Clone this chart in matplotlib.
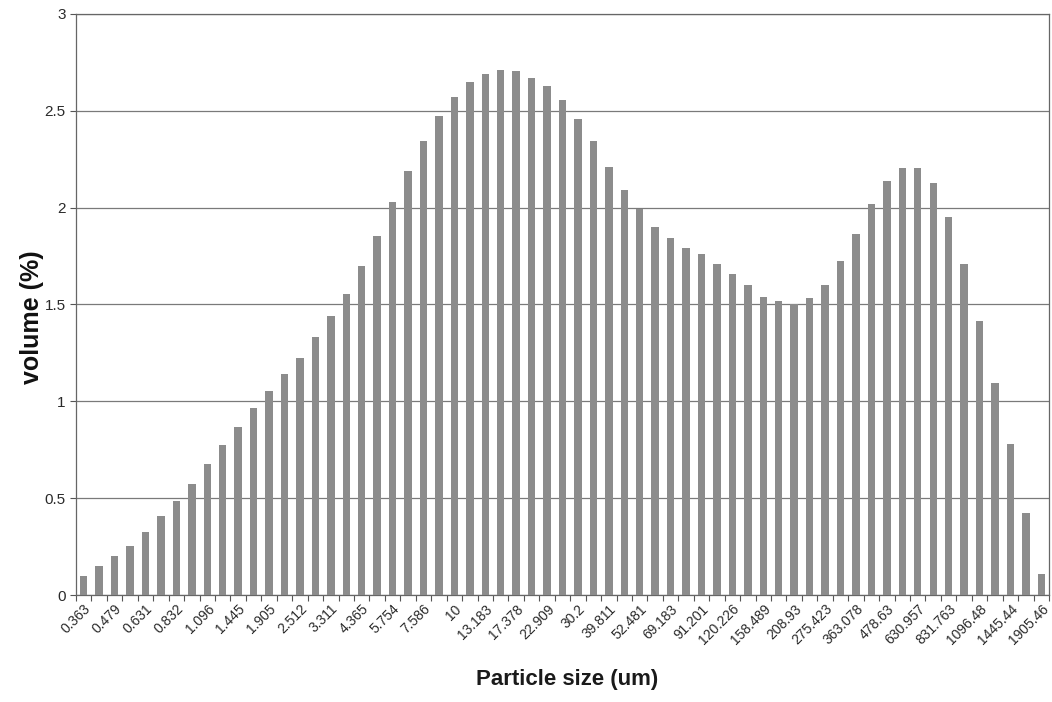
import matplotlib.pyplot as plt
from matplotlib import ticker as mtick

# particle size bins (um) and volume fraction per bin (%)
sizes = [
    "0.363", "0.417", "0.479", "0.55", "0.631", "0.724", "0.832", "0.955",
    "1.096", "1.259", "1.445", "1.66", "1.905", "2.188", "2.512", "2.884",
    "3.311", "3.802", "4.365", "5.012", "5.754", "6.607", "7.586", "8.71",
    "10", "11.482", "13.183", "15.136", "17.378", "19.953", "22.909", "26.303",
    "30.2", "34.674", "39.811", "45.709", "52.481", "60.256", "69.183", "79.433",
    "91.201", "104.713", "120.226", "138.038", "158.489", "181.97", "208.93", "239.883",
    "275.423", "316.228", "363.078", "416.869", "478.63", "549.541", "630.957", "724.436",
    "831.763", "954.993", "1096.48", "1258.93", "1445.44", "1659.59", "1905.46",
]
volume = [
    0.10, 0.15, 0.20, 0.255, 0.325, 0.41, 0.485, 0.575, 0.675, 0.775,
    0.865, 0.965, 1.055, 1.14, 1.225, 1.33, 1.44, 1.555, 1.70, 1.855,
    2.03, 2.19, 2.345, 2.47, 2.57, 2.65, 2.69, 2.71, 2.705, 2.67,
    2.625, 2.555, 2.455, 2.345, 2.21, 2.09, 1.99, 1.90, 1.845, 1.79,
    1.76, 1.71, 1.655, 1.60, 1.54, 1.515, 1.50, 1.535, 1.60, 1.725,
    1.865, 2.02, 2.135, 2.205, 2.205, 2.125, 1.95, 1.71, 1.415, 1.095,
    0.78, 0.425, 0.11,
]
y_ticks = [0, 0.5, 1, 1.5, 2, 2.5, 3]
y_tick_labels = ["0", "0.5", "1", "1.5", "2", "2.5", "3"]

plt.rcParams["font.family"] = ["Liberation Sans", "DejaVu Sans"]

fig = plt.figure(figsize=(10.52, 7.02), dpi=100)
ax = fig.add_axes([0.0722, 0.1524, 0.925, 0.828])

x = list(range(len(sizes)))
ax.bar(x, volume, width=0.48, color="#8c8c8c", zorder=3)

ax.set_xlim(-0.5, len(sizes) - 0.5)
ax.set_ylim(0, 3)

ax.set_yticks(y_ticks)
ax.set_yticklabels(y_tick_labels, fontsize=11, color="#2a2a2a")
ax.yaxis.grid(True, color="#7a7a7a", linewidth=0.9, zorder=0)

# every other bin gets a label; tick marks sit on the bin boundaries
ax.set_xticks(x[::2])
ax.set_xticklabels(sizes[::2], rotation=45, ha="right", rotation_mode="anchor",
                   fontsize=10, color="#2a2a2a")
ax.tick_params(axis="x", which="major", length=0, pad=5)
ax.xaxis.set_minor_locator(mtick.FixedLocator([i - 0.5 for i in x] + [len(x) - 0.5]))
ax.tick_params(axis="x", which="minor", length=4, color="#555555", width=0.8)
ax.tick_params(axis="y", length=4, color="#555555", width=0.8)

for side in ["left", "bottom", "top", "right"]:
    ax.spines[side].set_color("#666666")
    ax.spines[side].set_linewidth(0.9)

ax.set_ylabel("volume (%)", fontsize=18, fontweight="bold", color="#111111")
ax.yaxis.set_label_coords(-0.033, 0.478)
ax.set_xlabel("Particle size (um)", fontsize=16, fontweight="bold", color="#1a1a1a")
ax.xaxis.set_label_coords(0.505, -0.128)

plt.savefig("out.png", dpi=100)
